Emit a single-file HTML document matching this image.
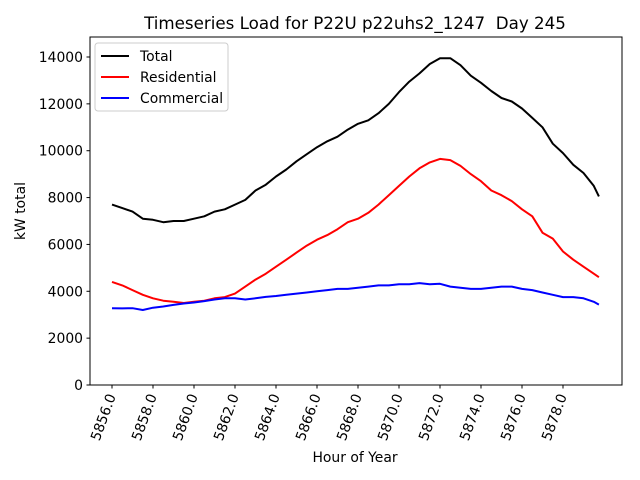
<!DOCTYPE html>
<html><head><meta charset="utf-8"><style>
body{margin:0;background:#fff;}
svg{display:block;font-family:"DejaVu Sans","Liberation Sans",sans-serif;}
</style></head><body>
<svg id="chart" width="640" height="480" viewBox="0 0 640 480">
<rect x="0" y="0" width="640" height="480" fill="#fff"/>
<text x="355" y="29" font-size="16.7" text-anchor="middle" xml:space="preserve">Timeseries Load for P22U p22uhs2_1247  Day 245</text>
<g id="plot"></g>
<rect x="90" y="37" width="532" height="348" fill="none" stroke="#000" stroke-width="1"/>
<text x="355" y="462" font-size="13.9" text-anchor="middle">Hour of Year</text>
<text transform="translate(25,211) rotate(-90)" font-size="13.9" text-anchor="middle">kW total</text>
<g>
<rect x="95" y="43" width="133" height="68" rx="3" fill="#fff" fill-opacity="0.8" stroke="#ccc"/>
<g><line x1="101" y1="56" x2="129" y2="56" stroke="#000" stroke-width="2"/><text x="140" y="61" font-size="13.9">Total</text></g>
<g><line x1="101" y1="77" x2="129" y2="77" stroke="red" stroke-width="2"/><text x="140" y="82" font-size="13.9">Residential</text></g>
<g><line x1="101" y1="98" x2="129" y2="98" stroke="blue" stroke-width="2"/><text x="140" y="103" font-size="13.9">Commercial</text></g>
</g>
</svg>
<script>
const hours=[5856,5856.5,5857,5857.5,5858,5858.5,5859,5859.5,5860,5860.5,5861,5861.5,5862,5862.5,5863,5863.5,5864,5864.5,5865,5865.5,5866,5866.5,5867,5867.5,5868,5868.5,5869,5869.5,5870,5870.5,5871,5871.5,5872,5872.5,5873,5873.5,5874,5874.5,5875,5875.5,5876,5876.5,5877,5877.5,5878,5878.5,5879,5879.5,5879.75];
const totalLoad=[7700,7550,7400,7100,7050,6950,7000,7000,7100,7200,7400,7500,7700,7900,8300,8550,8900,9200,9550,9850,10150,10400,10600,10900,11150,11300,11600,12000,12500,12950,13300,13700,13950,13950,13650,13200,12900,12550,12250,12100,11800,11400,11000,10300,9900,9400,9050,8500,8050];
const residentialLoad=[4400,4250,4050,3850,3700,3600,3550,3500,3550,3600,3700,3750,3900,4200,4500,4750,5050,5350,5650,5950,6200,6400,6650,6950,7100,7350,7700,8100,8500,8900,9250,9500,9650,9600,9350,9000,8700,8300,8100,7850,7500,7200,6500,6250,5700,5350,5050,4750,4600];
const commercialLoad=[3280,3270,3280,3200,3300,3350,3420,3480,3520,3580,3650,3700,3700,3650,3700,3760,3800,3850,3900,3950,4000,4050,4100,4100,4150,4200,4250,4250,4300,4300,4350,4300,4320,4200,4150,4100,4100,4150,4200,4200,4100,4050,3950,3850,3750,3750,3700,3550,3430];
const xTicks=[5856,5858,5860,5862,5864,5866,5868,5870,5872,5874,5876,5878];
const yTicks=[0,2000,4000,6000,8000,10000,12000,14000];
const NS="http://www.w3.org/2000/svg";
const X=h=>112+(h-5856)*20.5;
const Y=v=>385-v*(328/14000);
const g=document.getElementById('plot');
function mk(t,a){const e=document.createElementNS(NS,t);for(const k in a)e.setAttribute(k,a[k]);return e;}
yTicks.forEach(v=>{
  const l=mk('line',{x1:86.5,x2:90,y1:Y(v),y2:Y(v),stroke:'#000'});
  
  
  g.appendChild(l);
  const t=mk('text',{x:83,y:Y(v)+5,'font-size':13.9,'text-anchor':'end'});
  
  
  t.textContent=v;g.appendChild(t);
});
xTicks.forEach(h=>{
  const l=mk('line',{x1:X(h),x2:X(h),y1:385,y2:388.5,stroke:'#000'});
  
  
  g.appendChild(l);
  const t=mk('text',{x:X(h)+4,y:396,'font-size':13.9,'text-anchor':'end',transform:'rotate(-70,'+(X(h)+4)+',396)'});
  
  
  t.textContent=h.toFixed(1);g.appendChild(t);
});
[[totalLoad,'#000','total-line'],[residentialLoad,'red','residential-line'],[commercialLoad,'blue','commercial-line']].forEach(s=>{
  const n=Math.min(hours.length,s[0].length);
  let d='';for(let i=0;i<n;i++)d+=(i?'L':'M')+X(hours[i]).toFixed(1)+','+Y(s[0][i]).toFixed(1);
  const p=mk('path',{d:d,fill:'none',stroke:s[1],'stroke-width':2,'stroke-linejoin':'round'});
  
  
  g.appendChild(p);
});
</script>
</body></html>
